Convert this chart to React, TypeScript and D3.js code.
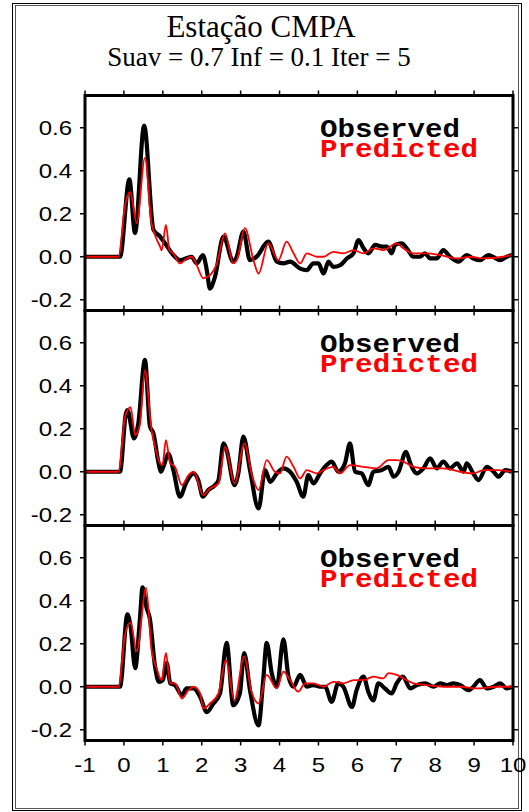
import React from 'react';
import * as d3 from 'd3';

const TITLE = 'Estação CMPA';
const SUBTITLE = 'Suav = 0.7 Inf = 0.1 Iter = 5';
const LEGEND = ['Observed', 'Predicted'];
const TIME_TICKS = [-1, 0, 1, 2, 3, 4, 5, 6, 7, 8, 9, 10];
const AMP_TICKS = [0.6, 0.4, 0.2, 0.0, -0.2];

const obs1: [number, number][] = [
  [-1, 0], [-0.1, 0], [0.14, 0.36], [0.285, 0.11], [0.52, 0.61], [0.76, 0.125], [0.93, 0.094], [1.06, 0.062],
  [1.27, 0.008], [1.44, -0.016], [1.74, 0.0], [1.87, -0.031], [2.03, 0.008], [2.13, -0.062], [2.21, -0.148],
  [2.34, -0.094], [2.56, 0.094], [2.81, -0.023], [2.9, 0.0], [3.07, 0.117], [3.24, -0.016], [3.41, 0.0],
  [3.71, 0.07], [3.93, -0.023], [4.1, -0.031], [4.27, -0.023], [4.53, -0.055], [4.7, -0.062], [4.87, -0.031],
  [5.0, -0.031], [5.13, -0.078], [5.26, -0.023], [5.38, -0.047], [5.56, -0.039], [5.73, -0.008], [5.9, 0.016],
  [6.03, 0.078], [6.16, 0.039], [6.28, 0.016], [6.46, 0.055], [6.63, 0.047], [6.76, 0.047], [6.88, 0.016],
  [6.97, 0.055], [7.14, 0.062], [7.27, 0.039], [7.44, 0.0], [7.61, 0.0], [7.74, 0.016], [7.87, -0.008],
  [8.04, -0.008], [8.21, 0.031], [8.38, 0.0], [8.6, -0.023], [8.81, 0.008], [8.98, -0.008], [9.15, -0.016],
  [9.37, 0.008], [9.67, -0.016], [9.84, 0.0], [9.97, 0.008],
];
const pred1: [number, number][] = [
  [-1, 0], [-0.14, 0], [0.03, 0.24], [0.16, 0.3], [0.33, 0.156], [0.54, 0.46], [0.71, 0.156], [0.8, 0.1],
  [0.93, 0.047], [0.97, 0.03], [1.08, 0.148], [1.17, 0.03], [1.27, 0.016], [1.44, -0.031], [1.61, -0.008],
  [1.74, 0.0], [1.87, -0.039], [2.04, -0.1], [2.21, -0.086], [2.39, -0.031], [2.6, 0.109], [2.81, -0.031],
  [2.9, -0.016], [3.11, 0.133], [3.33, -0.016], [3.46, -0.078], [3.71, 0.062], [3.97, -0.016], [4.18, 0.07],
  [4.36, 0.016], [4.53, -0.031], [4.7, 0.016], [4.96, 0.0], [5.13, 0.0], [5.38, 0.023], [5.64, 0.016],
  [5.9, 0.031], [6.16, 0.016], [6.41, 0.039], [6.67, 0.031], [7.01, 0.062], [7.18, 0.039], [7.44, 0.016],
  [7.78, 0.016], [8.13, 0.008], [8.56, -0.008], [8.9, 0.0], [9.24, -0.008], [9.75, 0.0], [9.97, 0.008],
];
const obs2: [number, number][] = [
  [-1, 0], [-0.1, 0], [0.05, 0.27], [0.09, 0.287], [0.26, 0.155], [0.37, 0.225], [0.54, 0.52], [0.67, 0.21],
  [0.76, 0.178], [0.89, 0.04], [0.95, 0.0], [1.03, 0.031], [1.14, 0.085], [1.27, 0.008], [1.44, -0.116],
  [1.61, -0.047], [1.79, -0.008], [1.91, -0.039], [2.03, -0.116], [2.17, -0.085], [2.34, -0.062], [2.43, -0.039],
  [2.56, 0.132], [2.64, 0.101], [2.84, -0.062], [2.94, -0.008], [3.07, 0.163], [3.24, 0.008], [3.46, -0.171],
  [3.63, 0.008], [3.76, -0.047], [3.93, -0.008], [4.1, 0.016], [4.27, 0.0], [4.44, -0.047], [4.61, -0.116],
  [4.74, -0.016], [4.87, -0.054], [5.04, -0.008], [5.21, 0.031], [5.34, 0.047], [5.51, 0.0], [5.68, 0.039],
  [5.81, 0.132], [5.94, 0.0], [6.11, -0.008], [6.28, -0.062], [6.41, 0.0], [6.63, 0.008], [6.8, 0.023],
  [6.93, -0.023], [7.06, 0.0], [7.25, 0.093], [7.36, 0.039], [7.53, -0.008], [7.7, 0.016], [7.87, 0.062],
  [8.04, 0.016], [8.21, 0.047], [8.38, 0.016], [8.56, 0.039], [8.73, 0.0], [8.81, 0.039], [8.98, -0.008],
  [9.11, -0.039], [9.33, 0.023], [9.5, 0.0], [9.63, -0.023], [9.8, 0.008], [9.97, 0.0],
];
const pred2: [number, number][] = [
  [-1, 0], [-0.14, 0], [0.03, 0.256], [0.17, 0.3], [0.29, 0.171], [0.41, 0.217], [0.54, 0.473], [0.71, 0.194],
  [0.8, 0.116], [0.93, 0.039], [0.99, 0.031], [1.08, 0.147], [1.19, 0.039], [1.31, 0.023], [1.49, -0.062],
  [1.66, -0.016], [1.79, 0.0], [2.04, -0.109], [2.21, -0.078], [2.43, -0.054], [2.6, 0.116], [2.84, -0.054],
  [3.1, 0.132], [3.28, -0.008], [3.46, -0.085], [3.67, 0.054], [3.88, 0.0], [4.01, -0.008], [4.18, 0.07],
  [4.36, 0.023], [4.53, -0.031], [4.7, 0.008], [4.96, -0.008], [5.13, 0.008], [5.38, 0.023], [5.56, -0.008],
  [5.81, 0.031], [6.16, 0.023], [6.5, 0.016], [6.8, 0.054], [7.01, 0.054], [7.18, 0.047], [7.44, 0.023],
  [7.78, 0.016], [8.21, 0.016], [8.64, 0.0], [8.98, -0.008], [9.24, 0.008], [9.58, 0.008], [9.97, 0.0],
];
const obs3: [number, number][] = [
  [-1, 0], [-0.1, 0], [0.09, 0.337], [0.17, 0.282], [0.29, 0.086], [0.41, 0.313], [0.48, 0.462], [0.57, 0.376],
  [0.67, 0.313], [0.8, 0.094], [0.9, 0.023], [1.0, 0.031], [1.1, 0.11], [1.19, 0.016], [1.31, 0.008],
  [1.49, -0.039], [1.61, -0.008], [1.79, -0.008], [1.96, -0.047], [2.13, -0.118], [2.3, -0.078], [2.47, -0.031],
  [2.64, 0.204], [2.81, -0.086], [2.98, -0.031], [3.09, 0.157], [3.24, -0.016], [3.46, -0.18], [3.58, 0.031],
  [3.67, 0.204], [3.8, 0.063], [3.93, 0.0], [4.1, 0.22], [4.23, 0.047], [4.36, 0.0], [4.53, 0.055], [4.7, 0.0],
  [4.87, 0.008], [5.04, 0.0], [5.17, 0.0], [5.34, -0.07], [5.51, 0.016], [5.64, 0.0], [5.86, -0.094],
  [5.98, -0.016], [6.16, 0.047], [6.28, -0.023], [6.41, -0.063], [6.54, 0.016], [6.71, -0.008], [6.88, -0.031],
  [7.01, 0.016], [7.17, 0.047], [7.36, -0.008], [7.53, 0.008], [7.74, 0.016], [7.96, 0.0], [8.13, 0.016],
  [8.3, 0.008], [8.47, 0.016], [8.64, 0.008], [8.86, -0.016], [8.98, 0.0], [9.15, 0.031], [9.33, -0.008],
  [9.5, 0.0], [9.67, 0.016], [9.84, -0.008], [9.97, 0.0],
];
const pred3: [number, number][] = [
  [-1, 0], [-0.14, 0], [0.03, 0.243], [0.17, 0.298], [0.33, 0.165], [0.57, 0.46], [0.71, 0.172], [0.84, 0.086],
  [0.97, 0.031], [1.08, 0.157], [1.19, 0.016], [1.31, 0.016], [1.49, -0.055], [1.66, -0.016], [1.79, 0.0],
  [1.96, -0.031], [2.04, -0.102], [2.21, -0.078], [2.43, -0.031], [2.62, 0.125], [2.84, -0.063], [3.09, 0.141],
  [3.28, -0.023], [3.46, -0.078], [3.67, 0.055], [3.93, -0.008], [4.1, 0.07], [4.27, 0.031], [4.48, -0.023],
  [4.66, 0.016], [4.87, 0.016], [5.13, 0.0], [5.38, 0.023], [5.64, 0.016], [5.9, 0.031], [6.16, 0.031],
  [6.41, 0.047], [6.67, 0.039], [6.8, 0.063], [7.01, 0.055], [7.18, 0.039], [7.44, 0.016], [7.78, 0.008],
  [8.21, 0.0], [8.64, 0.0], [9.07, -0.008], [9.58, 0.0], [9.97, 0.0],
];

const PANELS = [
  { obs: obs1, pred: pred1 },
  { obs: obs2, pred: pred2 },
  { obs: obs3, pred: pred3 },
];

const W = 529;
const H = 812;
const LEFT = 85;
const RIGHT = 513;
const TOP0 = 95.5;
const PH = 215;

export default function App() {
  const x = d3.scaleLinear().domain([-1, 10]).range([LEFT, RIGHT]);
  const tickLen = 5;
  return (
    <svg width={W} height={H} style={{ position: 'absolute', left: 0, top: 0, background: '#fff' }}
      xmlns="http://www.w3.org/2000/svg">
      <rect x={0} y={0} width={W} height={H} fill="#fff" />
      <rect x={12.5} y={3.5} width={509} height={807} fill="none" stroke="#000" strokeWidth={1} />
      <rect x={15.5} y={5.5} width={503} height={803} fill="none" stroke="#555" strokeWidth={1} />
      <text x={261} y={37} textAnchor="middle" fontFamily="'Liberation Serif', 'Times New Roman', serif"
        fontSize={31} fill="#000">{TITLE}</text>
      <text x={259} y={66} textAnchor="middle" fontFamily="'Liberation Serif', 'Times New Roman', serif"
        fontSize={27} fill="#000">{SUBTITLE}</text>
      <defs>
        {PANELS.map((_, i) => (
          <clipPath id={`clip${i}`} key={i}>
            <rect x={LEFT} y={TOP0 + i * PH} width={RIGHT - LEFT} height={PH} />
          </clipPath>
        ))}
      </defs>
      {PANELS.map((p, i) => {
        const top = TOP0 + i * PH;
        const y = d3.scaleLinear().domain([-0.25, 0.75]).range([top + PH, top]);
        const line = d3.line<[number, number]>()
          .x(d => x(d[0]))
          .y(d => y(d[1]))
          .curve(d3.curveMonotoneX);
        return (
          <g key={i}>
            <g clipPath={`url(#clip${i})`}>
              <path d={line(p.obs) || ''} fill="none" stroke="#000" strokeWidth={4.2} strokeLinejoin="round" />
              <path d={line(p.pred) || ''} fill="none" stroke="#ff0000" strokeWidth={1.8} strokeLinejoin="round" />
            </g>
            {TIME_TICKS.map(t => (
              <g key={`t${t}`} stroke="#000" strokeWidth={1.5}>
                <line x1={x(t)} x2={x(t)} y1={top} y2={top - tickLen} />
                <line x1={x(t)} x2={x(t)} y1={top + PH} y2={top + PH + tickLen} />
              </g>
            ))}
            {AMP_TICKS.map(a => (
              <g key={`a${a}`}>
                <line x1={LEFT} x2={LEFT - tickLen} y1={y(a)} y2={y(a)} stroke="#000" strokeWidth={1.5} />
                <line x1={RIGHT} x2={RIGHT + tickLen} y1={y(a)} y2={y(a)} stroke="#000" strokeWidth={1.5} />
                <text transform={`translate(72,${y(a) + 7}) scale(1.2,1)`} textAnchor="end"
                  fontFamily="'Liberation Sans', Arial, sans-serif" fontSize={20} fill="#000">
                  {a.toFixed(1)}
                </text>
              </g>
            ))}
            <rect x={LEFT} y={top} width={RIGHT - LEFT} height={PH} fill="none" stroke="#000" strokeWidth={3} />
            <text x={320} y={top + 41} fontFamily="'Liberation Mono', 'Courier New', monospace" fontWeight="bold"
              fontSize={26} textLength={140} lengthAdjust="spacingAndGlyphs" fill="#000">{LEGEND[0]}</text>
            <text x={320} y={top + 61} fontFamily="'Liberation Mono', 'Courier New', monospace" fontWeight="bold"
              fontSize={26} textLength={158} lengthAdjust="spacingAndGlyphs" fill="#ff0000">{LEGEND[1]}</text>
          </g>
        );
      })}
      {TIME_TICKS.map(t => (
        <text key={`xl${t}`} transform={`translate(${x(t)},${TOP0 + 3 * PH + 31}) scale(1.2,1)`} textAnchor="middle"
          fontFamily="'Liberation Sans', Arial, sans-serif" fontSize={20} fill="#000">{t}</text>
      ))}
    </svg>
  );
}
